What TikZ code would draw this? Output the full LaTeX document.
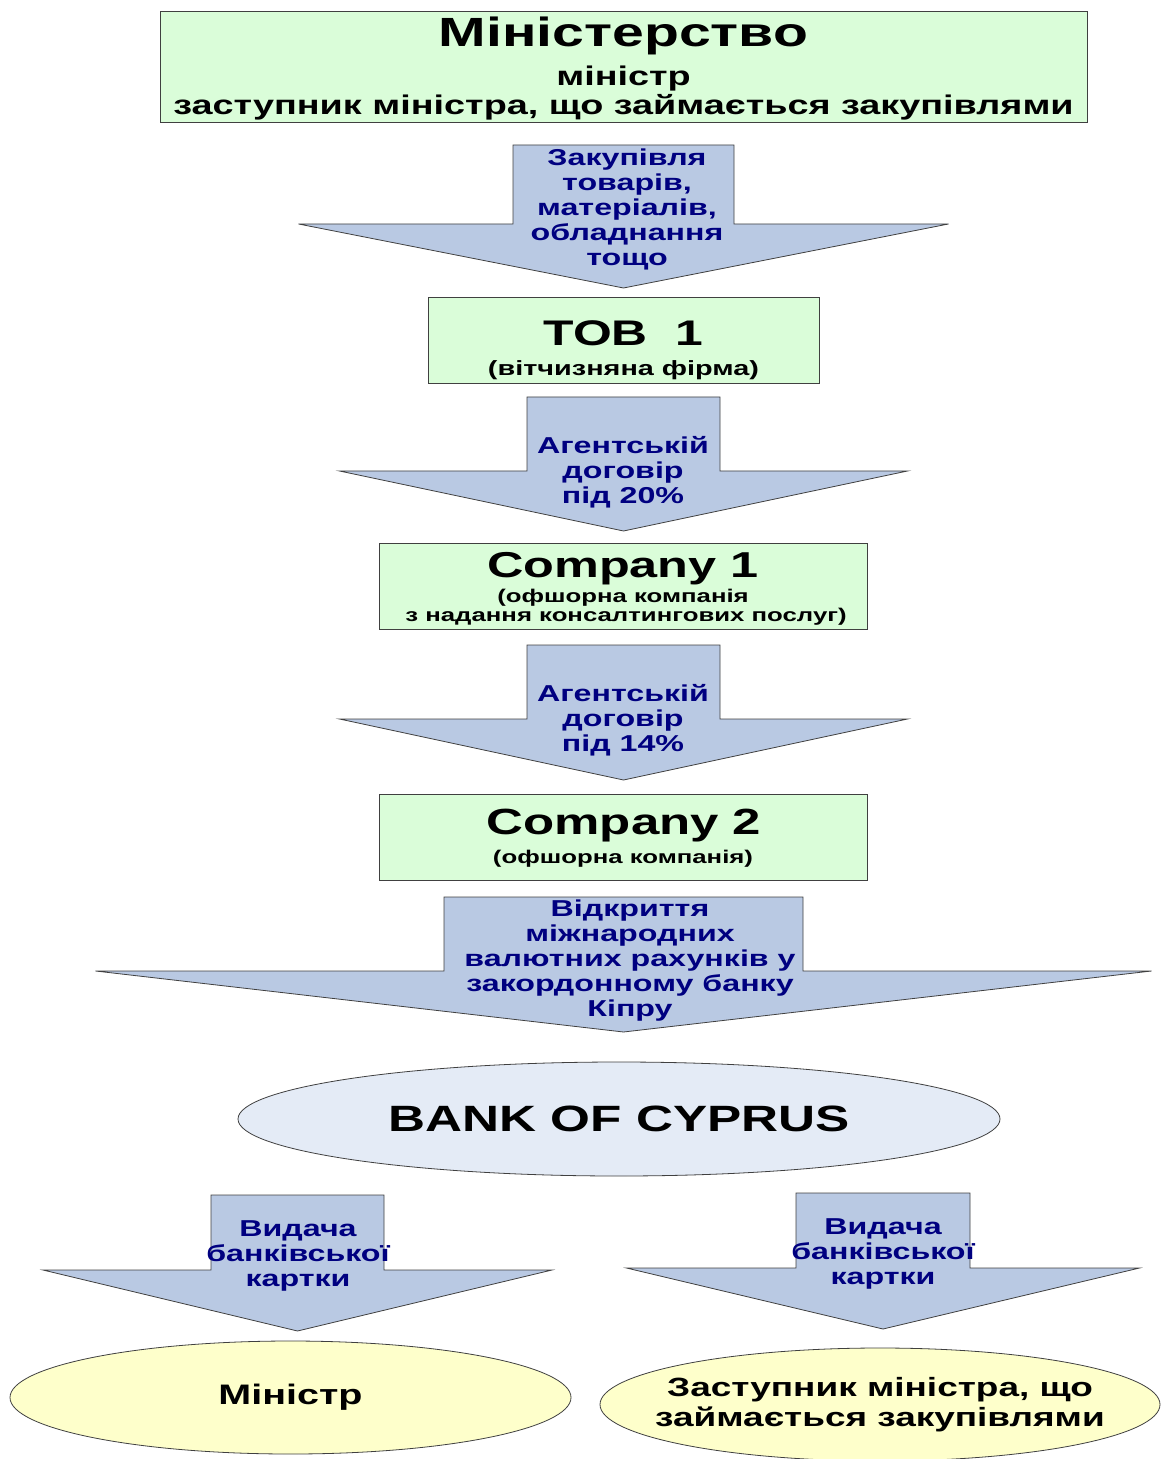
\documentclass[tikz,border=0pt]{standalone}
\usepackage{fontspec}
\setmainfont{Liberation Sans}[FakeStretch=1.4]
\usetikzlibrary{shapes.geometric}
\definecolor{firmgreen}{HTML}{DAFDD9}
\definecolor{flowblue}{HTML}{B9C9E3}
\definecolor{bankblue}{HTML}{E4EBF6}
\definecolor{personyellow}{HTML}{FEFFCB}
\definecolor{flownavy}{HTML}{000080}
\tikzstyle{firm} = [rectangle, draw=black!75, fill=firmgreen, inner sep=0pt]
\tikzstyle{firmtitle} = [anchor=base, inner sep=0pt]
\tikzstyle{firmnote} = [anchor=base, inner sep=0pt, font=\fontsize{9.2}{10}\selectfont\bfseries]
\tikzstyle{bank} = [ellipse, draw=black!75, fill=bankblue, align=center, inner sep=0pt]
\tikzstyle{person} = [ellipse, draw=black!75, fill=personyellow, align=center, inner sep=0pt]
\tikzstyle{flow} = [draw=black!75, fill=flowblue]
\tikzstyle{flowtext} = [align=center, text=flownavy, inner sep=0pt, font=\fontsize{11.5}{12.5}\selectfont\bfseries]
\newcommand{\flowarrow}[6]{\draw[flow] (#1-#3,#2) -- (#1+#3,#2) -- (#1+#3,#4) -- (#1+#5,#4) -- (#1,#6) -- (#1-#5,#4) -- (#1-#3,#4) -- cycle;}

\begin{document}
\begin{tikzpicture}[x=0.5pt, y=-0.5pt, font=\bfseries]
  \useasboundingbox (0,0) rectangle (1162,1459);

  \node (ministry) [firm, minimum width=463.5pt, minimum height=55.5pt] at (623.5,66.5) {};
  \node (ministryname) [firmtitle, font=\fontsize{20.4}{21}\selectfont\bfseries] at (623.5,46.5) {Міністерство};
  \node (ministryhead) [firmtitle, font=\fontsize{13.5}{14.5}\selectfont\bfseries] at (623.5,85.5) {міністр};
  \node (ministrydeputy) [firmtitle, font=\fontsize{13.5}{14.5}\selectfont\bfseries] at (623.5,114.5) {заступник міністра, що займається закупівлями};

  \flowarrow{623.5}{145}{110.5}{224}{325}{288}
  \node (purchase) [flowtext] at (627,209.5) {Закупівля\\товарів,\\матеріалів,\\обладнання\\тощо};

  \node (tob) [firm, minimum width=195.5pt, minimum height=43pt] at (623.5,340) {};
  \node (tobname) [firmtitle, font=\fontsize{17.8}{18}\selectfont\bfseries] at (623.5,346) {ТОВ\ \ 1};
  \node (tobnote) [firmnote, font=\fontsize{10.3}{11}\selectfont\bfseries] at (623.5,376) {(вітчизняна фірма)};

  \flowarrow{623.5}{397}{96.5}{471}{284}{531}
  \node (agent1) [flowtext] at (623,472) {Агентській\\договір\\під 20\%};

  \node (company1) [firm, minimum width=244pt, minimum height=43pt] at (623,586) {};
  \node (company1name) [firmtitle, font=\fontsize{18}{18}\selectfont\bfseries] at (623,577) {Company 1};
  \node (company1note) [firmnote] at (623,602) {(офшорна компанія};
  \node (company1note2) [firmnote] at (626,621.5) {з надання консалтингових послуг)};

  \flowarrow{623.5}{645}{96.5}{719}{284}{780}
  \node (agent2) [flowtext] at (623,720.5) {Агентській\\договір\\під 14\%};

  \node (company2) [firm, minimum width=244pt, minimum height=43pt] at (623,837) {};
  \node (company2name) [firmtitle, font=\fontsize{18.2}{18}\selectfont\bfseries] at (624,834) {Company 2};
  \node (company2note) [firmnote] at (623,863) {(офшорна компанія)};

  \flowarrow{623.5}{897}{179.5}{971}{528}{1032}
  \node (accounts) [flowtext] at (630,960.5) {Відкриття\\міжнародних\\валютних рахунків у\\закордонному банку\\Кіпру};

  \node (bank) [bank, minimum width=381pt, minimum height=57pt, font=\fontsize{18.3}{18}\selectfont\bfseries] at (619,1119) {BANK OF CYPRUS};

  \flowarrow{297.5}{1195}{86.5}{1270}{254.5}{1331}
  \node (card1) [flowtext] at (298,1256) {Видача\\банківської\\картки};

  \flowarrow{883}{1193}{87}{1268}{256.5}{1329}
  \node (card2) [flowtext] at (883,1254) {Видача\\банківської\\картки};

  \node (minister) [person, minimum width=280.5pt, minimum height=56.5pt, font=\fontsize{14.1}{15}\selectfont\bfseries] at (290.5,1397.5) {Міністр};
  \node (deputy) [person, minimum width=280pt, minimum height=56.5pt, inner xsep=-14pt, font=\fontsize{13.2}{15}\selectfont\bfseries] at (880,1404.5)
    {Заступник міністра, що\\займається закупівлями};
\end{tikzpicture}
\end{document}
